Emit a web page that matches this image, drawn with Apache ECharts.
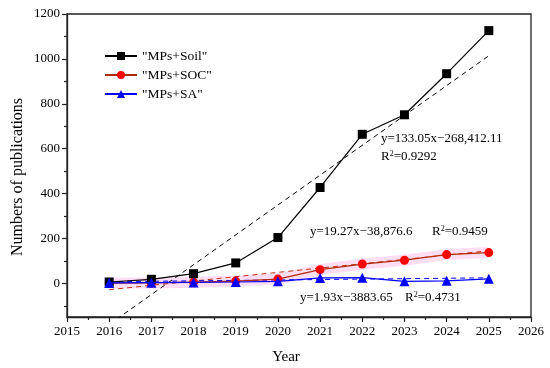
<!DOCTYPE html>
<html>
<head>
<meta charset="utf-8">
<script src="https://cdn.jsdelivr.net/npm/echarts@6/dist/echarts.min.js"></script>
<style>
html,body{margin:0;padding:0;background:#fff;}
#chart{width:550px;height:368px;}
</style>
</head>
<body>
<div id="chart"></div>
<script>
const years = [2016, 2017, 2018, 2019, 2020, 2021, 2022, 2023, 2024, 2025];
const soil = [6, 18, 43, 91, 204, 427, 664, 751, 934, 1126];
const soc = [1, 2, 5, 10, 19, 61, 86, 103, 128, 137];
const sa = [2, 3, 4, 6, 9, 24, 25, 9, 11, 20];
const soilFit = [[2016, -183.3], [2025, 1014.1]];
const socFit = [[2016, -28.3], [2025, 145.2]];
const saFit = [[2016, 7.2], [2025, 24.6]];
const seriesNames = ['"MPs+Soil"', '"MPs+SOC"', '"MPs+SA"'];
const yLabelValues = [0, 200, 400, 600, 800, 1000, 1200];
const yMinorValues = [-100, 100, 300, 500, 700, 900, 1100];
const annSoil1 = 'y=133.05x\u2212268,412.11';
const annSoilR = '0.9292';
const annSoc = 'y=19.27x\u221238,876.6';
const annSocR = '0.9459';
const annSa = 'y=1.93x\u22123883.65';
const annSaR = '0.4731';

const FONT = '"Liberation Serif", "Times New Roman", serif';
const pair = (xs, ys) => xs.map((x, i) => [x, ys[i]]);

const chart = echarts.init(document.getElementById('chart'));
const rText = (r) => '{a|R}{s|2}{a|=' + r + '}';
const rich = {
  a: {fontFamily: FONT, fontSize: 13, fill: '#000'},
  s: {fontFamily: FONT, fontSize: 8, fill: '#000', verticalAlign: 'top', padding: [0, 0, 6, 0]}
};
const txt = (x, y, text) => ({
  type: 'text', left: x, top: y, z: 100,
  style: {text: text, fontFamily: FONT, fontSize: 13, fill: '#000', rich: rich}
});

chart.setOption({
  animation: false,
  backgroundColor: '#fff',
  grid: {left: 67, right: 19, top: 14, bottom: 51, show: true, borderColor: '#222', borderWidth: 1.3, backgroundColor: 'transparent'},
  legend: {
    data: seriesNames,
    orient: 'vertical', left: 99, top: 44, itemWidth: 32, itemHeight: 10, itemGap: 5,
    textStyle: {fontFamily: FONT, fontSize: 13.5, color: '#000'}
  },
  xAxis: {
    type: 'value', min: 2015, max: 2026, interval: 1,
    axisLine: {onZero: false, lineStyle: {color: '#222', width: 1.3}},
    axisTick: {show: true, length: 5, lineStyle: {color: '#222', width: 1.2}},
    minorTick: {show: true, splitNumber: 2, length: 3, lineStyle: {color: '#222', width: 1.2}},
    splitLine: {show: false},
    axisLabel: {fontFamily: FONT, fontSize: 13, color: '#000', margin: 8, formatter: v => String(v)},
  },
  yAxis: [{
    type: 'value', min: -150, max: 1200,
    axisLine: {show: true, onZero: false, lineStyle: {color: '#222', width: 1.3}},
    axisTick: {show: true, length: 5, customValues: yLabelValues, lineStyle: {color: '#222', width: 1.2}},
    axisLabel: {fontFamily: FONT, fontSize: 13, color: '#000', margin: 7, customValues: yLabelValues, formatter: v => String(v)},
    splitLine: {show: false}
  }, {
    type: 'value', min: -150, max: 1200, position: 'left',
    axisLine: {show: false, onZero: false},
    axisTick: {show: true, length: 3, customValues: yMinorValues, lineStyle: {color: '#222', width: 1.2}},
    axisLabel: {show: false},
    splitLine: {show: false}
  }],
  graphic: [
    {type: 'text', rotation: Math.PI / 2, z: 100, x: 18, y: 177,
     style: {text: 'Numbers of publications', fontFamily: FONT, fontSize: 16, fill: '#000', align: 'center', verticalAlign: 'middle'}},
    {type: 'text', z: 100, x: 286, y: 357,
     style: {text: 'Year', fontFamily: FONT, fontSize: 15, fill: '#000', align: 'center', verticalAlign: 'middle'}},
    txt(381, 132, annSoil1),
    txt(381, 150, rText(annSoilR)),
    txt(310, 225, annSoc),
    txt(432, 225, rText(annSocR)),
    txt(300, 291, annSa),
    txt(405, 291, rText(annSaR))
  ],
  series: [
    {name: 'band', type: 'line', data: pair(years, soc), symbol: 'none', silent: true, z: 1,
     lineStyle: {color: 'rgba(255,170,225,0.4)', width: 11}},
    {name: 'soilFit', type: 'line', data: soilFit, symbol: 'none', z: 2,
     lineStyle: {color: '#000', width: 1, type: [5, 4]}},
    {name: 'socFit', type: 'line', data: socFit, symbol: 'none', z: 2,
     lineStyle: {color: '#c03010', width: 1, type: [5, 4]}},
    {name: 'saFit', type: 'line', data: saFit, symbol: 'none', z: 2,
     lineStyle: {color: '#0000ff', width: 1, type: [5, 4]}},
    {name: seriesNames[0], type: 'line', data: pair(years, soil), symbol: 'rect', symbolSize: 9, z: 5,
     itemStyle: {color: '#000'}, lineStyle: {color: '#000', width: 1.2}},
    {name: seriesNames[1], type: 'line', data: pair(years, soc), symbol: 'circle', symbolSize: 9, z: 4,
     itemStyle: {color: '#ff0000'}, lineStyle: {color: '#b02a08', width: 1.2}},
    {name: seriesNames[2], type: 'line', data: pair(years, sa), symbol: 'triangle', symbolSize: 10, z: 6,
     itemStyle: {color: '#0000ff'}, lineStyle: {color: '#0000ff', width: 1.2}}
  ]
});
</script>
</body>
</html>
